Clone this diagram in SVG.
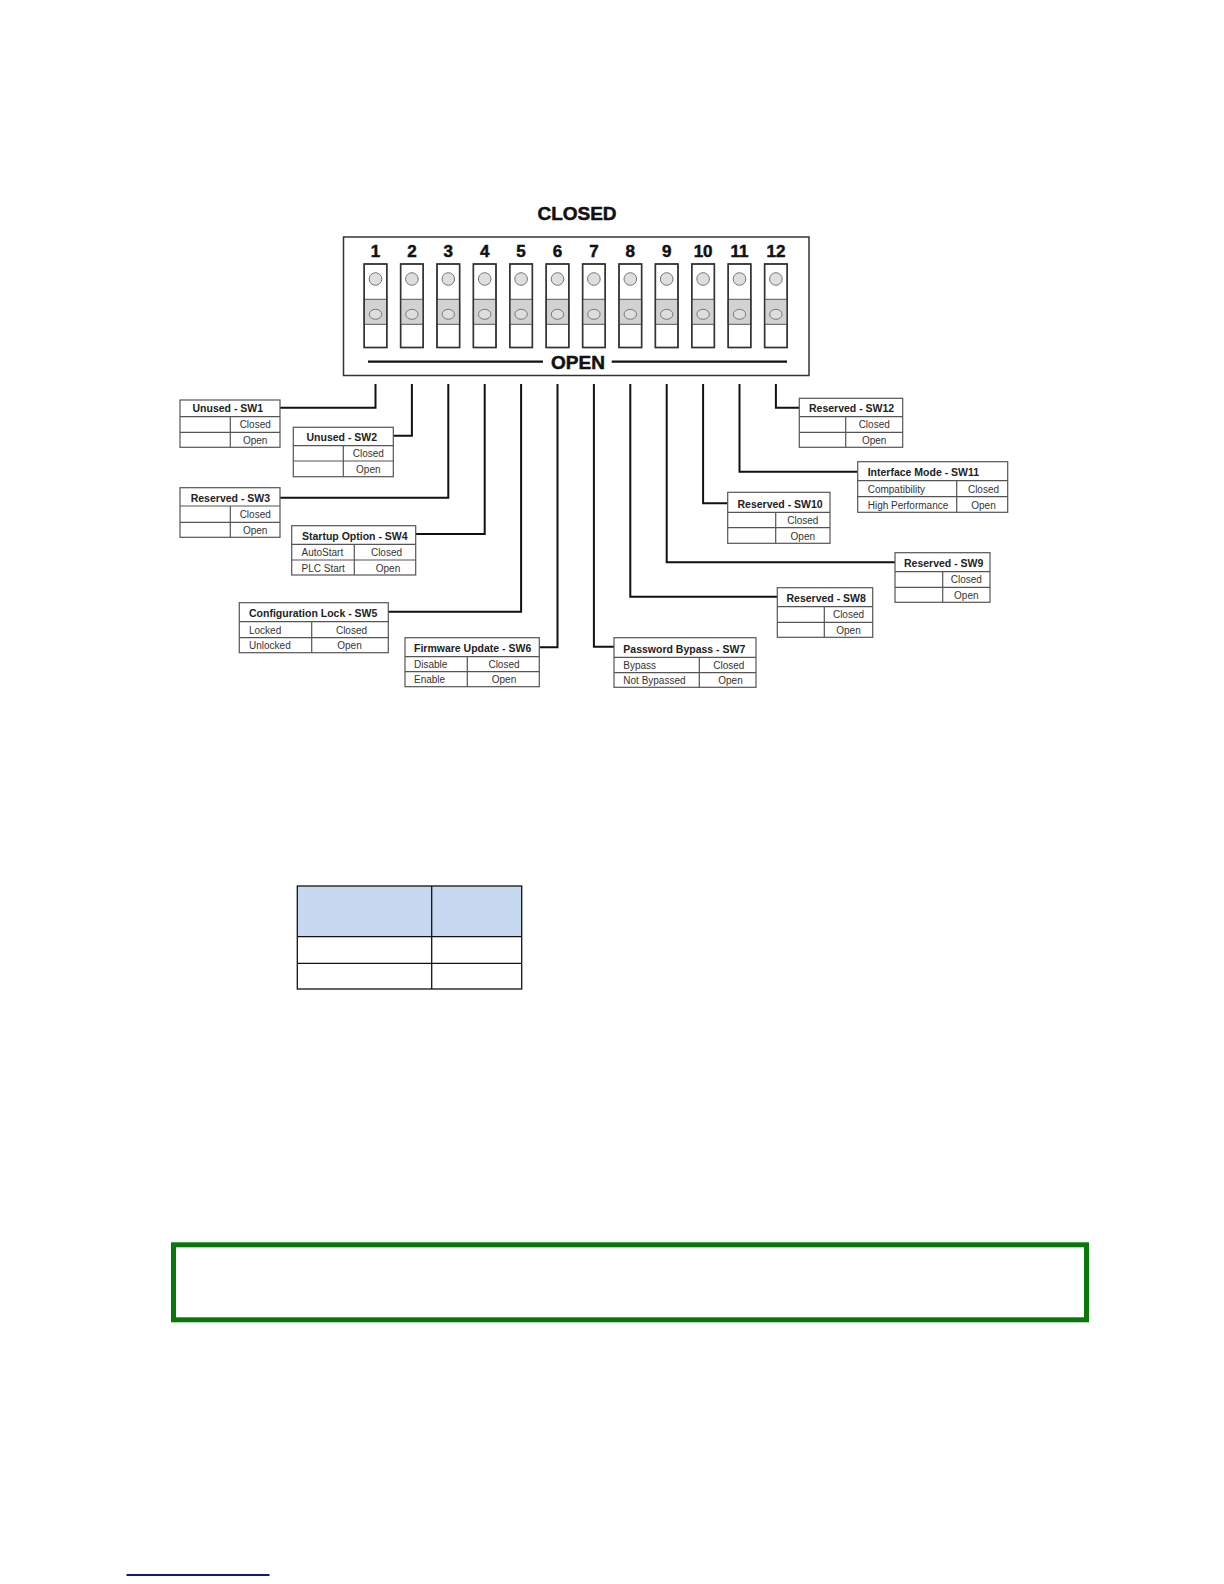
<svg xmlns="http://www.w3.org/2000/svg" width="1224" height="1584" viewBox="0 0 1224 1584">
<style>
.bg{fill:#ffffff}
.frame{fill:#ffffff;stroke:#333333;stroke-width:1.5}
.sw{fill:#ffffff;stroke:#333333;stroke-width:1.4}
.band{fill:#d2d2d2;stroke:#555555;stroke-width:1}
.dot{fill:#dedede;stroke:#777777;stroke-width:1}
.num{font-family:"Liberation Sans",Arial,sans-serif;font-weight:bold;font-size:17px;fill:#111111;stroke:#111111;stroke-width:0.5;text-anchor:middle}
.big{font-family:"Liberation Sans",Arial,sans-serif;font-weight:bold;font-size:19px;fill:#111111;stroke:#111111;stroke-width:0.5;text-anchor:middle}
.bar{stroke:#111111;stroke-width:2.2;fill:none}
.conn path{fill:none;stroke:#111111;stroke-width:2}
.box{fill:#ffffff;stroke:#555555;stroke-width:1.2}
.cell{stroke:#555555;stroke-width:1.2;fill:none}
.hd{font-family:"Liberation Sans",Arial,sans-serif;font-weight:bold;font-size:10.5px;fill:#222222}
.tx{font-family:"Liberation Sans",Arial,sans-serif;font-size:10px;fill:#333333}
.c{text-anchor:middle}
.tbl{fill:none;stroke:#111111;stroke-width:1.3}
</style>
<rect class="bg" x="0" y="0" width="1224" height="1584"/>

<g id="dip-switch">
  <text class="big" x="577" y="220">CLOSED</text>
  <rect class="frame" x="343.5" y="237" width="465.5" height="138.5"/>
  <g id="numbers">
    <text class="num" x="375.5" y="256.5">1</text>
    <text class="num" x="411.9" y="256.5">2</text>
    <text class="num" x="448.3" y="256.5">3</text>
    <text class="num" x="484.7" y="256.5">4</text>
    <text class="num" x="521.1" y="256.5">5</text>
    <text class="num" x="557.5" y="256.5">6</text>
    <text class="num" x="593.9" y="256.5">7</text>
    <text class="num" x="630.3" y="256.5">8</text>
    <text class="num" x="666.7" y="256.5">9</text>
    <text class="num" x="703.1" y="256.5">10</text>
    <text class="num" x="739.5" y="256.5">11</text>
    <text class="num" x="775.9" y="256.5">12</text>
  </g>
  <defs>
    <g id="sw">
      <rect class="sw" x="-11.3" y="264" width="22.6" height="83.5"/>
      <rect class="band" x="-11.3" y="299.3" width="22.6" height="25"/>
      <rect class="sw" x="-11.3" y="264" width="22.6" height="83.5" style="fill:none"/>
      <circle class="dot" cx="0" cy="279" r="6.3"/>
      <ellipse class="dot" cx="0" cy="314.3" rx="6.2" ry="5"/>
    </g>
  </defs>
  <use href="#sw" x="375.5"/>
  <use href="#sw" x="411.9"/>
  <use href="#sw" x="448.3"/>
  <use href="#sw" x="484.7"/>
  <use href="#sw" x="521.1"/>
  <use href="#sw" x="557.5"/>
  <use href="#sw" x="593.9"/>
  <use href="#sw" x="630.3"/>
  <use href="#sw" x="666.7"/>
  <use href="#sw" x="703.1"/>
  <use href="#sw" x="739.5"/>
  <use href="#sw" x="775.9"/>
  <line class="bar" x1="368" y1="361.7" x2="543" y2="361.7"/>
  <line class="bar" x1="611.7" y1="361.7" x2="787" y2="361.7"/>
  <text class="big" x="578" y="368.5">OPEN</text>
</g>

<g id="connectors" class="conn">
  <path d="M375.5 384 V407.7 H280"/>
  <path d="M411.9 384 V435.7 H393.3"/>
  <path d="M448.3 384 V497.7 H280"/>
  <path d="M484.7 384 V534 H415.7"/>
  <path d="M521.1 384 V611.7 H388.3"/>
  <path d="M557.5 384 V647.3 H539.3"/>
  <path d="M593.9 384 V646.7 H614"/>
  <path d="M630.3 384 V596.7 H777.3"/>
  <path d="M666.7 384 V562.3 H895"/>
  <path d="M703.1 384 V503.3 H727.7"/>
  <path d="M739.5 384 V471.7 H857.7"/>
  <path d="M775.9 384 V407.7 H799.3"/>
</g>

<g id="sw1">
  <rect class="box" x="180" y="400" width="100" height="47.3"/>
  <path class="cell" d="M180 416.7 H280 M180 432.3 H280 M230.3 416.7 V447.3"/>
  <text class="hd" x="192.5" y="412.3">Unused - SW1</text>
  <text class="tx c" x="255.2" y="428.3">Closed</text>
  <text class="tx c" x="255.2" y="444">Open</text>
</g>
<g id="sw2">
  <rect class="box" x="293.3" y="427.3" width="100" height="49.4"/>
  <path class="cell" d="M293.3 445.7 H393.3 M293.3 461 H393.3 M343.3 445.7 V476.7"/>
  <text class="hd" x="306.5" y="441.3">Unused - SW2</text>
  <text class="tx c" x="368.3" y="457">Closed</text>
  <text class="tx c" x="368.3" y="473.2">Open</text>
</g>
<g id="sw3">
  <rect class="box" x="180" y="487.7" width="100" height="49.6"/>
  <path class="cell" d="M180 506 H280 M180 522.3 H280 M230.3 506 V537.3"/>
  <text class="hd" x="190.7" y="501.5">Reserved - SW3</text>
  <text class="tx c" x="255.2" y="518.3">Closed</text>
  <text class="tx c" x="255.2" y="533.8">Open</text>
</g>
<g id="sw4">
  <rect class="box" x="291.7" y="525.7" width="124" height="49.3"/>
  <path class="cell" d="M291.7 544.3 H415.7 M291.7 560 H415.7 M354.3 544.3 V575"/>
  <text class="hd" x="302" y="539.8">Startup Option - SW4</text>
  <text class="tx" x="301.5" y="556">AutoStart</text>
  <text class="tx" x="301.5" y="571.5">PLC Start</text>
  <text class="tx c" x="386.5" y="556">Closed</text>
  <text class="tx c" x="388" y="571.5">Open</text>
</g>
<g id="sw5">
  <rect class="box" x="239.3" y="602.7" width="149" height="50"/>
  <path class="cell" d="M239.3 621.7 H388.3 M239.3 637.7 H388.3 M311.7 621.7 V652.7"/>
  <text class="hd" x="249" y="617.2">Configuration Lock - SW5</text>
  <text class="tx" x="249" y="633.7">Locked</text>
  <text class="tx" x="249" y="649.2">Unlocked</text>
  <text class="tx c" x="351.5" y="633.7">Closed</text>
  <text class="tx c" x="349.5" y="649.2">Open</text>
</g>
<g id="sw6">
  <rect class="box" x="405" y="637.7" width="134.3" height="49"/>
  <path class="cell" d="M405 656.7 H539.3 M405 671.7 H539.3 M467.3 656.7 V686.7"/>
  <text class="hd" x="414" y="652.2">Firmware Update - SW6</text>
  <text class="tx" x="414" y="667.7">Disable</text>
  <text class="tx" x="414" y="683.2">Enable</text>
  <text class="tx c" x="504" y="667.7">Closed</text>
  <text class="tx c" x="504" y="683.2">Open</text>
</g>
<g id="sw7">
  <rect class="box" x="614" y="637.7" width="142" height="49.6"/>
  <path class="cell" d="M614 657.3 H756 M614 672.7 H756 M699.3 657.3 V687.3"/>
  <text class="hd" x="623.3" y="652.8">Password Bypass - SW7</text>
  <text class="tx" x="623.3" y="668.7">Bypass</text>
  <text class="tx" x="623.3" y="683.8">Not Bypassed</text>
  <text class="tx c" x="728.8" y="668.7">Closed</text>
  <text class="tx c" x="730.5" y="683.8">Open</text>
</g>
<g id="sw8">
  <rect class="box" x="777.3" y="587.7" width="95.4" height="49.6"/>
  <path class="cell" d="M777.3 606.7 H872.7 M777.3 622.3 H872.7 M824.3 606.7 V637.3"/>
  <text class="hd" x="786.5" y="602.2">Reserved - SW8</text>
  <text class="tx c" x="848.5" y="618.3">Closed</text>
  <text class="tx c" x="848.5" y="633.8">Open</text>
</g>
<g id="sw9">
  <rect class="box" x="895" y="552.7" width="95" height="49.6"/>
  <path class="cell" d="M895 571.7 H990 M895 587.3 H990 M942.7 571.7 V602.3"/>
  <text class="hd" x="904" y="567.2">Reserved - SW9</text>
  <text class="tx c" x="966.3" y="583.3">Closed</text>
  <text class="tx c" x="966.3" y="598.8">Open</text>
</g>
<g id="sw10">
  <rect class="box" x="727.7" y="492.3" width="102.3" height="51"/>
  <path class="cell" d="M727.7 512.3 H830 M727.7 527.7 H830 M775.7 512.3 V543.3"/>
  <text class="hd" x="737.5" y="507.5">Reserved - SW10</text>
  <text class="tx c" x="802.8" y="523.7">Closed</text>
  <text class="tx c" x="802.8" y="539.8">Open</text>
</g>
<g id="sw11">
  <rect class="box" x="857.7" y="461.7" width="150" height="50.6"/>
  <path class="cell" d="M857.7 480.7 H1007.7 M857.7 496.7 H1007.7 M956.7 480.7 V512.3"/>
  <text class="hd" x="867.7" y="476.2">Interface Mode - SW11</text>
  <text class="tx" x="867.7" y="492.7">Compatibility</text>
  <text class="tx" x="867.7" y="508.5">High Performance</text>
  <text class="tx c" x="983.5" y="492.7">Closed</text>
  <text class="tx c" x="983.5" y="508.5">Open</text>
</g>
<g id="sw12">
  <rect class="box" x="799.3" y="398.3" width="103.4" height="49"/>
  <path class="cell" d="M799.3 416.7 H902.7 M799.3 432.3 H902.7 M845.7 416.7 V447.3"/>
  <text class="hd" x="809" y="412.3">Reserved - SW12</text>
  <text class="tx c" x="874.2" y="428.3">Closed</text>
  <text class="tx c" x="874.2" y="444">Open</text>
</g>

<g id="table">
  <rect x="297.3" y="886" width="224.4" height="50.7" fill="#c6d9f1"/>
  <rect class="tbl" x="297.3" y="886" width="224.4" height="103"/>
  <path class="tbl" d="M297.3 936.7 H521.7 M297.3 963.3 H521.7 M431.7 886 V989"/>
</g>

<g id="note-box">
  <rect x="173.5" y="1244.8" width="913" height="75" fill="#ffffff" stroke="#087808" stroke-width="5"/>
</g>

<g id="footer">
  <line x1="126.5" y1="1575" x2="269.5" y2="1575" stroke="#151585" stroke-width="1.8"/>
</g>
</svg>
